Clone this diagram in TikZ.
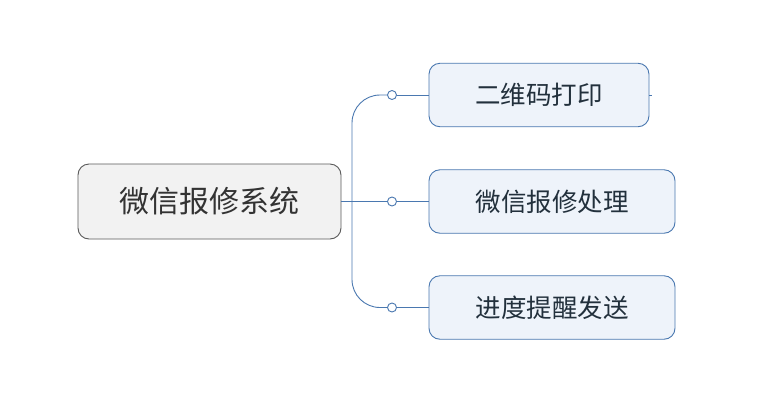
\documentclass[tikz,border=0pt]{standalone}
\usepackage{fontspec}
\newfontfamily\cjk{Noto Sans CJK SC}
\begin{document}
\begin{tikzpicture}[x=1pt,y=-1pt,
  rootbox/.style={draw=black!65, fill=black!5, line width=0.9pt, rounded corners=11pt,
    minimum width=263pt, minimum height=75pt, inner sep=0pt, font=\cjk\fontsize{30}{34}\selectfont, text=black!80},
  childbox/.style={draw=conn, fill=childfill, line width=0.9pt, rounded corners=11pt,
    minimum height=63.5pt, inner sep=0pt, font=\cjk\fontsize{25.5}{30}\selectfont, text=childtext},
  knob/.style={circle, draw=conn, fill=white, line width=0.9pt, minimum size=9pt, inner sep=0pt},
  link/.style={draw=conn, line width=0.9pt}
]
\definecolor{conn}{HTML}{4A78B0}
\definecolor{childfill}{HTML}{EEF3FA}
\definecolor{childtext}{HTML}{22303C}
\useasboundingbox (0,0) rectangle (766,400);
\fill[white] (0,0) rectangle (766,400);

\node[rootbox] (root) at (209.5,201.5) {微信报修系统};
\node[childbox, minimum width=220pt] (c1) at (539,95) {二维码打印};
\node[childbox, minimum width=246pt] (c2) at (552,201.5) {微信报修处理};
\node[childbox, minimum width=246pt] (c3) at (552,307.5) {进度提醒发送};

\node[knob] (k1) at (392,95) {};
\node[knob] (k2) at (392,201.5) {};
\node[knob] (k3) at (392,307.5) {};
\coordinate (tip) at (652,95);

\draw[link, rounded corners=28pt] (k1.west) -- (352,95) -- (352,307.5) -- (k3.west);
\draw[link] (root.east) -- (k2.west);
\draw[link] (k1.east) -- (c1.west);
\draw[link] (k2.east) -- (c2.west);
\draw[link] (k3.east) -- (c3.west);
\draw[link] (c1.east) -- (tip);
\end{tikzpicture}
\end{document}
